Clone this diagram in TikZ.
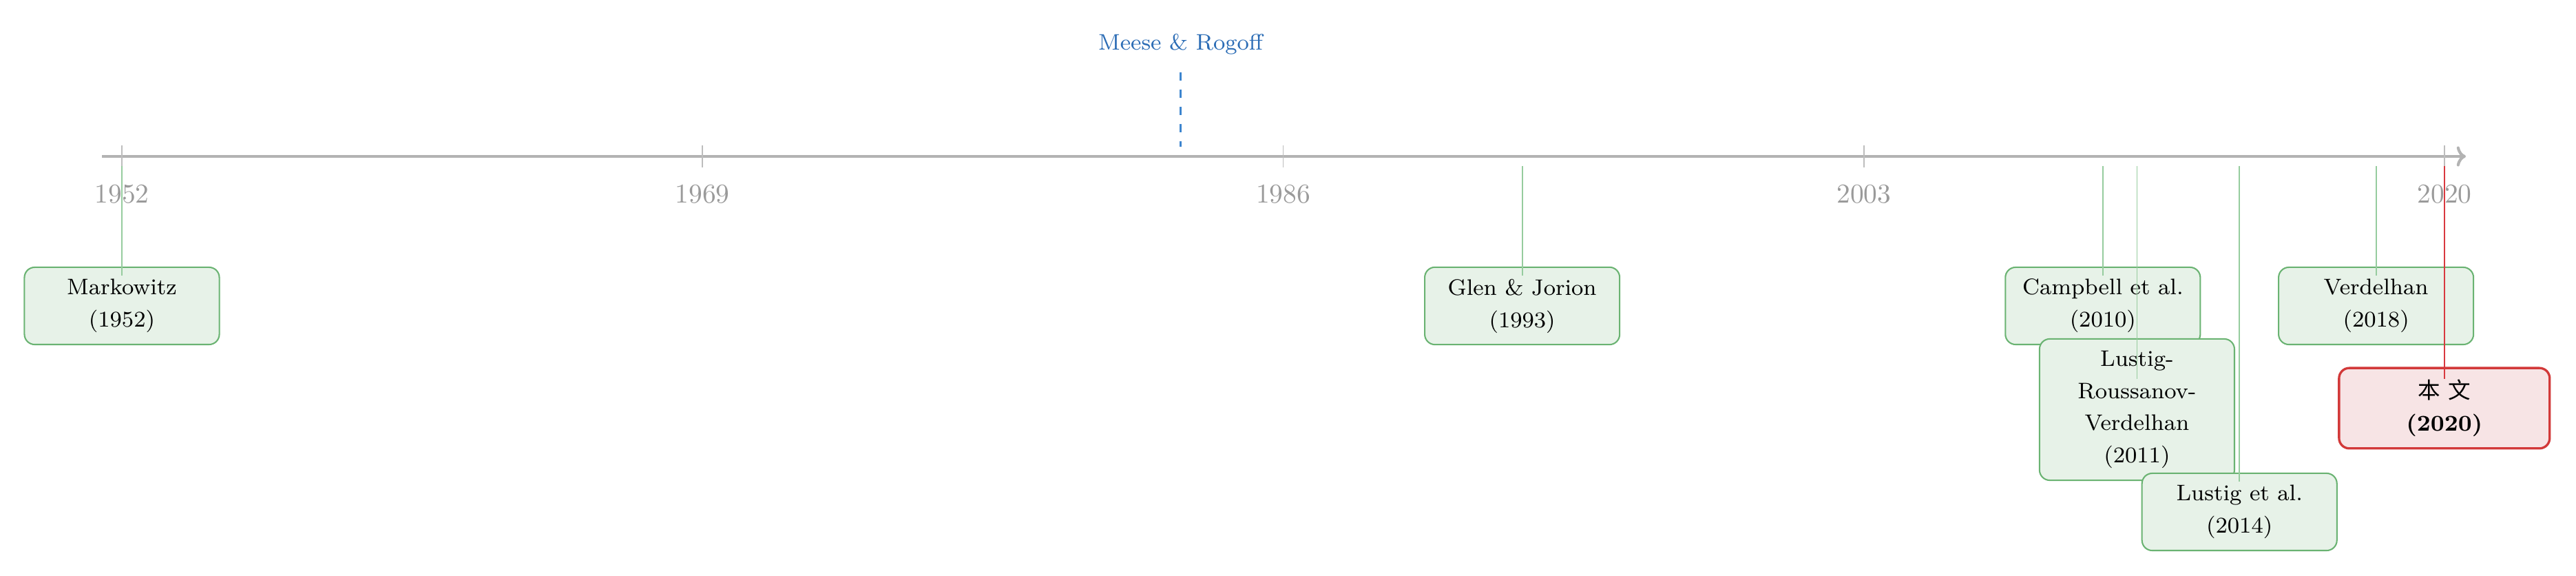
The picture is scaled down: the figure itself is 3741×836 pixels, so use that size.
\documentclass[tikz,border=0pt]{standalone}
\usepackage{fontspec}
\newfontfamily\cjk{Noto Sans CJK SC}
\usetikzlibrary{arrows.meta}
\definecolor{axisgray}{HTML}{B3B3B3}
\definecolor{tickgray}{HTML}{BDBDBD}
\definecolor{labelgray}{HTML}{9A9A9A}
\definecolor{gborder}{HTML}{6AB372}
\definecolor{gfill}{HTML}{E7F2E8}
\definecolor{gline}{HTML}{96CC9E}
\definecolor{rborder}{HTML}{D23939}
\definecolor{rfill}{HTML}{F7E4E5}
\definecolor{rline}{HTML}{D8393F}
\definecolor{btext}{HTML}{2B6CB5}
\definecolor{bdash}{HTML}{3D85CF}
\begin{document}
\begin{tikzpicture}[x=0.2409pt,y=-0.2409pt,
  axisline/.style={draw=axisgray, line width=1pt, -{To[length=3.2pt,width=7pt]}},
  tickline/.style={draw=tickgray, line width=0.4pt},
  ticklabel/.style={text=labelgray, anchor=base, inner sep=0pt, font=\fontsize{9.5pt}{11pt}\selectfont},
  evbox/.style={draw=gborder, fill=gfill, line width=0.5pt, rounded corners=3.6pt, align=center,
    minimum width=68.2pt, minimum height=27pt, inner xsep=2pt, inner ysep=4.1pt,
    font=\fontsize{7.85pt}{11.3pt}\selectfont},
  thisbox/.style={evbox, draw=rborder, fill=rfill, line width=0.8pt, minimum width=73.7pt, minimum height=27.7pt},
  evline/.style={draw=gline, line width=0.45pt},
  thisline/.style={draw=rline, line width=0.5pt},
  mrlabel/.style={text=btext, anchor=base, inner sep=0pt, font=\fontsize{7.85pt}{10pt}\selectfont},
  mrline/.style={draw=bdash, line width=0.55pt, dashed}
]
\useasboundingbox (0,0) rectangle (3741,836);

% axis
\coordinate (axstart) at (148,227);
\coordinate (axend) at (3581,227);
\draw[axisline] (axstart) -- (axend);

% ticks and labels
\foreach \yr/\xx in {1952/177, 1969/1020.25, 1986/1863.5, 2003/2706.75, 2020/3550}{
  \draw[tickline] (\xx,211) -- (\xx,243);
  \node[ticklabel] (lab\yr) at (\xx,295) {\yr};
}

% Meese & Rogoff
\node[mrlabel] (mr) at (1714.6,73) {Meese \& Rogoff};
\coordinate (mrtop) at (1714.6,105);
\coordinate (mrbot) at (1714.6,213);
\draw[mrline] (mrtop) -- (mrbot);

% event boxes
\node[evbox] (mark) at (177,444) {Markowitz\\(1952)};
\node[evbox] (glen) at (2210.6,444) {Glen \& Jorion\\(1993)};
\node[evbox] (camp) at (3053.8,444) {Campbell et al.\\(2010)};
\node[evbox] (lrv) at (3103.4,594.5) {Lustig-\\Roussanov-\\Verdelhan\\(2011)};
\node[evbox] (lus) at (3252.2,743) {Lustig et al.\\(2014)};
\node[evbox] (verd) at (3450.6,444) {Verdelhan\\(2018)};
\node[thisbox] (this) at (3549.8,592.5) {{\cjk 本\hspace{2.8pt}文}\\\textbf{(2020)}};

% connector end points
\coordinate (markT) at (177,241);   \coordinate (markE) at (177,400);
\coordinate (glenT) at (2210.6,241); \coordinate (glenE) at (2210.6,400);
\coordinate (campT) at (3053.8,241); \coordinate (campE) at (3053.8,400);
\coordinate (lrvT) at (3103.4,241);  \coordinate (lrvE) at (3103.4,550);
\coordinate (lusT) at (3252.2,241);  \coordinate (lusE) at (3252.2,699);
\coordinate (verdT) at (3450.6,241); \coordinate (verdE) at (3450.6,400);
\coordinate (thisT) at (3549.8,241); \coordinate (thisE) at (3549.8,550);

\draw[evline] (markT) -- (markE);
\draw[evline] (glenT) -- (glenE);
\draw[evline] (campT) -- (campE);
\draw[evline] (lrvT) -- (lrvE);
\draw[evline] (lusT) -- (lusE);
\draw[evline] (verdT) -- (verdE);
\draw[thisline] (thisT) -- (thisE);
\end{tikzpicture}
\end{document}
